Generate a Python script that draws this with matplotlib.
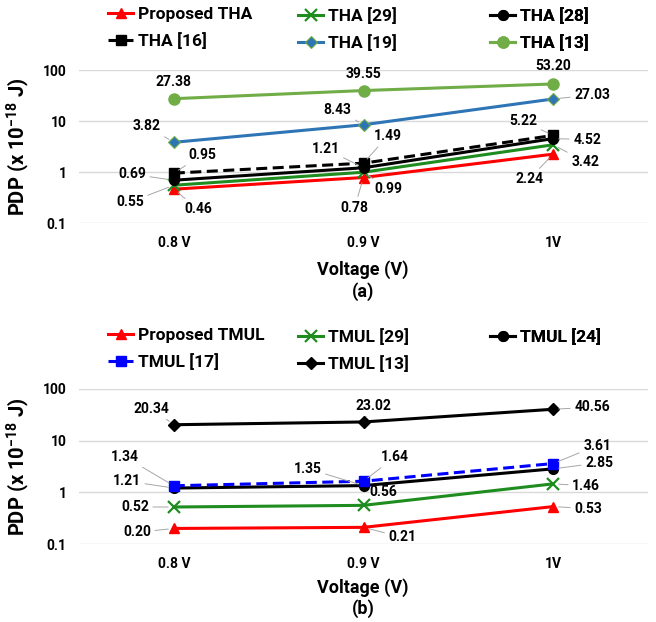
import matplotlib

matplotlib.use("Agg")
import matplotlib.pyplot as plt
import numpy as np

# ---------------------------------------------------------------------------
# Data
# ---------------------------------------------------------------------------
voltages = ["0.8 V", "0.9 V", "1V"]

# (a) THA  PDP (x 1e-18 J)
tha_proposed = [0.46, 0.78, 2.24]
tha_29 = [0.55, 0.99, 3.42]
tha_28 = [0.69, 1.21, 4.52]
tha_16 = [0.95, 1.49, 5.22]
tha_19 = [3.82, 8.43, 27.03]
tha_13 = [27.38, 39.55, 53.20]

# (b) TMUL  PDP (x 1e-18 J)
tmul_proposed = [0.20, 0.21, 0.53]
tmul_29 = [0.52, 0.56, 1.46]
tmul_24 = [1.21, 1.35, 2.85]
tmul_17 = [1.34, 1.64, 3.61]
tmul_13 = [20.34, 23.02, 40.56]

# ---------------------------------------------------------------------------
# Styles
# ---------------------------------------------------------------------------
FONT = "Roboto"
plt.rcParams["font.family"] = [FONT, "DejaVu Sans"]
plt.rcParams["font.weight"] = "bold"
plt.rcParams["mathtext.fontset"] = "custom"
plt.rcParams["mathtext.rm"] = FONT + ":bold"
plt.rcParams["mathtext.default"] = "rm"

RED = "#FF0000"
GREEN = "#1E8C1E"
BLACK = "#000000"
BLUE_A = "#2E75B6"
LGREEN = "#70AD47"
BLUE_B = "#0000FF"
GRID = "#D9D9D9"
LEADER = "#A6A6A6"

LW = 2.2
DASH = (3.6, 1.8)

style_a = [
    dict(label="Proposed THA", color=RED, marker="^", ms=7),
    dict(label="THA [29]", color=GREEN, marker="x", ms=8, mew=1.6),
    dict(label="THA [28]", color=BLACK, marker="o", ms=7),
    dict(label="THA [16]", color=BLACK, marker="s", ms=7, ls="--", dashes=DASH),
    dict(label="THA [19]", color=BLUE_A, marker="D", ms=6, mec=LGREEN, mew=0.8),
    dict(label="THA [13]", color=LGREEN, marker="o", ms=8),
]
series_a = [tha_proposed, tha_29, tha_28, tha_16, tha_19, tha_13]
# label offsets in pixels (dx right, dy up) and leader-line flags
offs_a = [
    [(24, -20), (-9, -30), (-24, -25)],
    [(-44, -17), (25, -17), (32, -17)],
    [(-42, 6), (-38, 19), (34, -1)],
    [(28, 18), (24, 27), (-30, 14)],
    [(-27, 16), (-26, 15), (39, 4)],
    [(0, 17), (0, 17), (0, 18)],
]
lead_a = [[1, 1, 1], [1, 1, 1], [1, 1, 1], [1, 1, 1], [1, 1, 1], [0, 0, 0]]

style_b = [
    dict(label="Proposed TMUL", color=RED, marker="^", ms=7),
    dict(label="TMUL [29]", color=GREEN, marker="x", ms=8, mew=1.6),
    dict(label="TMUL [24]", color=BLACK, marker="o", ms=7),
    dict(label="TMUL [17]", color=BLUE_B, marker="s", ms=7, ls="--", dashes=DASH),
    dict(label="TMUL [13]", color=BLACK, marker="D", ms=6),
]
series_b = [tmul_proposed, tmul_29, tmul_24, tmul_17, tmul_13]
offs_b = [
    [(-37, -4), (39, -10), (35, -2)],
    [(-39, 0), (20, 13), (33, -2)],
    [(-47, 7), (-56, 17), (46, 6)],
    [(-49, 29), (31, 24), (44, 18)],
    [(-22, 16), (10, 16), (39, 2)],
]
lead_b = [[1, 1, 1], [1, 0, 1], [1, 1, 1], [1, 1, 1], [1, 1, 1]]


def draw_panel(ax, series, styles, offsets, leaders):
    x = np.arange(len(voltages))
    handles = []
    for vals, st, offs, lead in zip(series, styles, offsets, leaders):
        h, = ax.plot(x, vals, lw=LW, zorder=3, **st)
        handles.append(h)
        for xi, v, (dx, dy), ld in zip(x, vals, offs, lead):
            arrow = None
            if ld:
                arrow = dict(arrowstyle="-", color=LEADER, lw=0.7,
                             shrinkA=1, shrinkB=4)
            ax.annotate(f"{v:.2f}", xy=(xi, v), xytext=(dx, dy),
                        textcoords="offset pixels", ha="center", va="center",
                        fontsize=10, fontweight="bold", zorder=6,
                        arrowprops=arrow)
    ax.set_yscale("log")
    ax.set_ylim(0.1, 100)
    ax.set_xlim(-0.5, 2.5)
    ax.set_yticks([0.1, 1, 10, 100])
    ax.set_yticklabels(["0.1", "1", "10", "100"])
    ax.yaxis.set_minor_locator(matplotlib.ticker.NullLocator())
    ax.set_xticks(x)
    ax.set_xticklabels(voltages)
    ax.tick_params(axis="both", length=0, labelsize=10)
    ax.tick_params(axis="x", pad=9)
    ax.tick_params(axis="y", pad=9)
    for s in ax.spines.values():
        s.set_visible(False)
    ax.grid(axis="y", color=GRID, lw=1.0, zorder=0)
    ax.set_axisbelow(True)
    ax.set_ylabel("PDP (x 10$^{-18}$ J)", fontsize=14.5, fontweight="bold")
    ax.yaxis.set_label_coords(-0.083, 0.5)
    return handles


def add_legends(ax, handles, cols, fig_y):
    xs = [108 / 656, 298 / 656, 490 / 656]
    for ci, idx in enumerate(cols):
        leg = ax.legend(handles=[handles[i] for i in idx], loc="upper left",
                        bbox_to_anchor=(xs[ci], fig_y),
                        bbox_transform=ax.figure.transFigure,
                        frameon=False, fontsize=12.5, handlelength=1.45,
                        handletextpad=0.3, labelspacing=0.6, borderpad=0,
                        borderaxespad=0)
        ax.add_artist(leg)


fig = plt.figure(figsize=(6.56, 6.22), dpi=100)
L = 79 / 656
W = (648 - 79) / 656
ax_a = fig.add_axes([L, 1 - 223 / 622, W, (223 - 70) / 622])
ax_b = fig.add_axes([L, 1 - 544 / 622, W, (544 - 389) / 622])

h_a = draw_panel(ax_a, series_a, style_a, offs_a, lead_a)
h_b = draw_panel(ax_b, series_b, style_b, offs_b, lead_b)

add_legends(ax_a, h_a, [[0, 3], [1, 4], [2, 5]], 1 - 7 / 622)
add_legends(ax_b, h_b, [[0, 3], [1, 4], [2]], 1 - 328 / 622)

cx = 363 / 656
fig.text(cx, 1 - 270 / 622, "Voltage (V)", ha="center", va="center",
         fontsize=13, fontweight="bold")
fig.text(cx, 1 - 292 / 622, "(a)", ha="center", va="center",
         fontsize=13, fontweight="bold")
fig.text(cx, 1 - 588 / 622, "Voltage (V)", ha="center", va="center",
         fontsize=13, fontweight="bold")
fig.text(cx, 1 - 609 / 622, "(b)", ha="center", va="center",
         fontsize=13, fontweight="bold")

fig.savefig("out.png", dpi=100)
